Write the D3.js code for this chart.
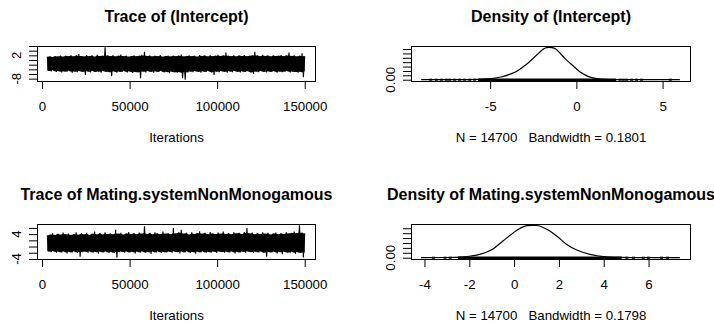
<!DOCTYPE html>
<html>
<head>
<meta charset="utf-8">
<script src="https://cdn.jsdelivr.net/npm/d3@7"></script>
<style>
  body { margin: 0; background: #fff; }
  svg { font-family: "Liberation Sans", Arial, sans-serif; }
  .axis text { font-size: 13.3px; fill: #000; }
  .axis line { stroke: #000; }
  .lab { font-size: 13.3px; fill: #000; white-space: pre; }
  .main { font-size: 16px; font-weight: bold; fill: #000; }
</style>
</head>
<body>
<div id="chart"></div>
<script>
// saved iterations (burnin 3000, thin 10)
const iterStart = 3001,
      iterEnd = 150000,
      sampleSize = 14700;

// trace envelopes, one hi/lo pair every 1500 iterations
const interceptHi = [1.4, 1.6, 1.3, 1.7, 1.5, 1.9, 1.4, 1.8, 1.6, 2.0,
  1.5, 1.9, 2.6, 1.7, 1.5, 2.1, 1.6, 1.9, 1.4, 2.2,
  1.7, 1.8, 5.45, 1.9, 1.6, 2.0, 1.5, 1.8, 2.3, 1.6,
  1.9, 1.4, 1.7, 2.0, 1.6, 1.8, 2.2, 3.5, 1.7, 1.9,
  1.5, 1.8, 1.6, 2.1, 1.4, 1.7, 1.9, 1.5, 1.8, 1.6,
  1.9, 2.3, 1.5, 1.7, 2.0, 1.6, 1.8, 1.4, 2.1, 1.7,
  1.9, 1.5, 2.0, 1.6, 1.8, 2.2, 1.7, 1.9, 3.2, 1.8,
  1.6, 2.0, 1.5, 1.9, 1.7, 2.1, 1.6, 1.8, 2.0, 3.5,
  1.9, 1.6, 2.2, 1.7, 1.9, 1.5, 2.0, 1.7, 1.8, 2.1,
  1.6, 1.9, 3.2, 1.7, 2.0, 1.5, 1.8, 2.9, 1.6];
const interceptLo = [-4.6, -4.9, -4.4, -5.1, -4.7, -5.3, -4.8, -5.0, -4.5, -5.4,
  -4.9, -5.2, -4.7, -5.0, -6.4, -4.8, -5.3, -4.6, -5.1, -4.9,
  -5.5, -4.7, -5.0, -5.2, -6.9, -4.8, -5.4, -4.9, -5.1, -4.6,
  -5.3, -4.8, -5.6, -5.0, -5.2, -7.8, -4.9, -5.3, -4.7, -5.0,
  -5.4, -4.8, -5.1, -4.6, -5.3, -5.0, -5.7, -4.9, -5.2, -5.5,
  -5.1, -7.8, -8.45, -5.3, -4.9, -5.2, -4.7, -5.0, -5.4, -4.8,
  -5.1, -4.6, -5.3, -6.4, -4.9, -5.2, -4.7, -5.0, -5.5, -4.8,
  -5.2, -4.6, -5.0, -5.3, -4.8, -5.1, -4.7, -5.4, -6.0, -4.9,
  -5.2, -4.6, -5.0, -5.3, -4.8, -5.1, -4.7, -5.4, -4.9, -5.2,
  -5.0, -4.7, -5.3, -4.9, -5.1, -5.5, -5.0, -7.4, -4.8];

const matingHi = [3.6, 3.9, 4.3, 3.7, 4.1, 3.8, 4.5, 3.9, 4.2, 3.7,
  4.0, 4.6, 3.8, 4.2, 3.9, 4.4, 3.7, 4.1, 4.8, 3.9,
  4.3, 3.8, 4.6, 4.0, 4.2, 3.9, 5.4, 4.1, 4.4, 3.8,
  4.2, 4.7, 4.0, 4.3, 3.9, 4.5, 4.1, 6.5, 4.0, 4.4,
  3.9, 4.6, 4.2, 4.0, 4.8, 4.1, 4.3, 3.9, 6.0, 4.2,
  4.5, 5.4, 4.1, 4.4, 3.8, 4.6, 4.0, 4.3, 4.9, 4.1,
  4.4, 3.9, 4.7, 4.2, 4.0, 4.5, 4.1, 4.8, 4.0, 4.3,
  3.9, 4.6, 4.2, 4.4, 4.0, 4.7, 6.0, 4.2, 4.5, 3.9,
  4.3, 4.0, 4.6, 4.1, 4.4, 3.8, 4.2, 4.5, 3.9, 4.3,
  4.0, 4.6, 4.2, 4.4, 4.8, 4.3, 6.85, 4.5, 4.2];
const matingLo = [-1.5, -1.8, -1.4, -2.0, -1.6, -1.9, -1.5, -2.2, -1.7, -1.9,
  -1.5, -2.1, -3.3, -1.8, -1.6, -2.0, -1.5, -1.9, -1.7, -2.3,
  -1.6, -1.9, -1.5, -2.1, -1.7, -2.0, -3.6, -1.8, -1.6, -2.0,
  -1.5, -1.9, -1.7, -2.2, -1.6, -1.9, -1.5, -2.0, -1.7, -2.4,
  -1.6, -1.9, -1.5, -2.1, -1.7, -1.9, -1.6, -2.0, -1.5, -1.8,
  -2.2, -1.6, -1.9, -1.5, -2.0, -1.7, -2.3, -1.6, -1.9, -1.5,
  -2.0, -1.7, -1.9, -1.6, -2.1, -1.5, -1.8, -2.0, -1.6, -1.9,
  -1.5, -2.2, -1.7, -1.9, -1.6, -2.0, -1.5, -1.8, -2.1, -1.6,
  -1.9, -1.5, -2.0, -3.3, -1.7, -1.9, -1.6, -2.2, -1.7, -2.5,
  -1.6, -1.9, -2.0, -1.7, -2.3, -1.8, -2.0, -3.5, -1.9];

// kernel density curves
const interceptDensX = [-9.0, -7.0, -5.7, -5.2, -4.8, -4.3, -3.8, -3.4, -3.06, -2.75,
  -2.5, -2.2, -2.0, -1.8, -1.6, -1.4, -1.2, -0.95, -0.7, -0.36,
  0.0, 0.2, 0.5, 0.8, 1.2, 1.6, 2.2, 3.5, 6.0];
const interceptDensY = [0, 0.001, 0.004, 0.009, 0.016, 0.034, 0.066, 0.103, 0.150, 0.200,
  0.245, 0.300, 0.337, 0.362, 0.370, 0.366, 0.350, 0.305, 0.250, 0.188,
  0.125, 0.090, 0.055, 0.030, 0.013, 0.005, 0.002, 0.0005, 0];
const matingDensX = [-4.15, -3.0, -2.4, -2.0, -1.67, -1.3, -0.92, -0.5, -0.03, 0.27,
  0.57, 0.8, 1.01, 1.46, 1.9, 2.35, 2.8, 3.39, 3.99, 4.7, 5.5, 7.4];
const matingDensY = [0, 0.002, 0.006, 0.015, 0.027, 0.050, 0.092, 0.170, 0.255, 0.300,
  0.327, 0.330, 0.328, 0.289, 0.221, 0.135, 0.078, 0.034, 0.011, 0.003, 0.001, 0];

// observations along the bottom: lone tail values + the solid stretch
const interceptRug = [-8.45, -8.12, -7.83, -7.54, -7.35, -7.06, -6.77, -6.48, -6.19, -5.9,
  2.53, 2.72, 2.91, 3.2, 3.49, 3.78, 5.45];
const interceptRugSolid = [-5.7, 2.3];
const matingRug = [-3.6, -3.08, -2.85, 5.03, 5.33, 5.77, 6.0, 6.58, 6.85];
const matingRugSolid = [-2.5, 4.8];

const paramNames = ['(Intercept)', 'Mating.systemNonMonogamous'];
const bandwidths = ['0.1801', '0.1798'];

// layout of the 2x2 grid (plot boxes)
const cols = [{x0: 37, x1: 315}, {x0: 411, x1: 690}],
      rows = [{y0: 46, y1: 81}, {y0: 224, y1: 259}];

const svg = d3.select('#chart').append('svg')
    .attr('width', 714)
    .attr('height', 327);

svg.append('rect').attr('width', 714).attr('height', 327).attr('fill', '#fff');

// R style 4% extension
function ext4(lo, hi) {
    const d = (hi - lo) * 0.04;
    return [lo - d, hi + d];
}

// plain numbers with a hyphen minus, like R
const fmtPlain = d => String(d);

function mWidth() {
    const t = svg.append('text').attr('class', 'lab').text('m');
    const w = t.node().getComputedTextLength();
    t.remove();
    return w;
}
const gap = mWidth();

function drawBox(g, c, r) {
    g.append('rect')
        .attr('x', c.x0 + 0.5).attr('y', r.y0 + 0.5)
        .attr('width', c.x1 - c.x0).attr('height', r.y1 - r.y0)
        .attr('fill', 'none').attr('stroke', '#000').attr('stroke-width', 1);
}

function xAxis(g, x, r) {
    const ax = g.append('g')
        .attr('class', 'axis')
        .attr('transform', `translate(0,${r.y1})`)
        .call(d3.axisBottom(x).tickValues(x.ticks(5)).tickFormat(fmtPlain)
            .tickSize(8).tickSizeOuter(0).tickPadding(13));
    ax.select('.domain').remove();
}

// R prints all ticks of an axis with the same number of decimals
function formatR(t, ticks) {
    const step = Math.abs(ticks[1] - ticks[0]);
    const dec = Math.max(0, -Math.floor(Math.log10(step) + 1e-9));
    return t.toFixed(dec);
}

// ticks on the left; labels rotated and dropped when they'd overlap (like R)
function yAxis(g, y, c) {
    const ticks = y.ticks(7);
    const ax = g.append('g')
        .attr('class', 'axis')
        .attr('transform', `translate(${c.x0},0)`)
        .call(d3.axisLeft(y).tickValues(ticks).tickSize(8).tickSizeOuter(0).tickFormat(''));
    ax.select('.domain').remove();

    let last = null;
    ticks.forEach(t => {
        const yy = y(t);
        const txt = g.append('text')
            .attr('class', 'lab')
            .attr('text-anchor', 'middle')
            .attr('transform', `translate(${c.x0 - 16},${yy}) rotate(-90)`)
            .text(formatR(t, ticks));
        const w = txt.node().getComputedTextLength();
        if (last && Math.abs(last.y - yy) < last.w / 2 + w / 2 + gap) txt.remove();
        else last = {y: yy, w: w};
    });
}

function title(g, c, r, txt) {
    g.append('text')
        .attr('class', 'main')
        .attr('x', (c.x0 + c.x1) / 2 + 0.5)
        .attr('y', r.y0 - 24.5)
        .attr('text-anchor', 'middle')
        .text(txt);
}

function xLabel(g, c, r, txt) {
    g.append('text')
        .attr('class', 'lab')
        .attr('x', (c.x0 + c.x1) / 2 + 0.5)
        .attr('y', r.y1 + 60.5)
        .attr('text-anchor', 'middle')
        .text(txt);
}

function tracePanel(c, r, name, hi, lo) {
    const g = svg.append('g');
    const step = (iterEnd - iterStart) / (hi.length - 1);

    const x = d3.scaleLinear(ext4(iterStart, iterEnd), [c.x0, c.x1]);
    const y = d3.scaleLinear(ext4(d3.min(lo), d3.max(hi)), [r.y1, r.y0]);

    // the chain swings between the high and low values of each block
    const pts = [];
    hi.forEach((h, i) => {
        const it = iterStart + i * step;
        pts.push([it, h]);
        if (i < hi.length - 1) pts.push([it + step / 2, lo[i]]);
    });

    const core = d3.area()
        .x((d, i) => x(iterStart + i * step))
        .y0((d, i) => y(Math.max(lo[i], d3.median(lo.slice(Math.max(0, i - 2), i + 3)))))
        .y1((d, i) => y(Math.min(d, d3.median(hi.slice(Math.max(0, i - 2), i + 3)))));

    g.append('path')
        .datum(hi)
        .attr('d', core)
        .attr('fill', '#000');

    g.append('path')
        .datum(pts)
        .attr('d', d3.line().x(d => x(d[0])).y(d => y(d[1])))
        .attr('fill', 'none')
        .attr('stroke', '#000')
        .attr('stroke-width', 1.1);

    drawBox(g, c, r);
    xAxis(g, x, r);
    yAxis(g, y, c);
    title(g, c, r, 'Trace of ' + name);
    xLabel(g, c, r, 'Iterations');
}

function densityPanel(c, r, name, dx, dy, rug, solid, bw) {
    const g = svg.append('g');
    const lo = d3.min(rug) - 3 * (+bw),
          hi = d3.max(rug) + 3 * (+bw);

    const x = d3.scaleLinear(ext4(lo, hi), [c.x0, c.x1]);
    const y = d3.scaleLinear(ext4(0, d3.max(dy)), [r.y1, r.y0]);

    const line = d3.line()
        .x(d => x(d))
        .y((d, i) => y(dy[i]))
        .curve(d3.curveMonotoneX);

    g.append('path')
        .datum(dx)
        .attr('d', line)
        .attr('fill', 'none')
        .attr('stroke', '#000')
        .attr('stroke-width', 1.2);

    // observations
    g.append('line')
        .attr('x1', x(solid[0])).attr('x2', x(solid[1]))
        .attr('y1', y(0)).attr('y2', y(0))
        .attr('stroke', '#000').attr('stroke-width', 2.5);
    g.selectAll('.obs')
        .data(rug)
        .enter()
        .append('line')
        .attr('class', 'obs')
        .attr('x1', d => x(d) - 1.5).attr('x2', d => x(d) + 1.5)
        .attr('y1', y(0)).attr('y2', y(0))
        .attr('stroke', '#000').attr('stroke-width', 2);

    drawBox(g, c, r);
    xAxis(g, x, r);
    yAxis(g, y, c);
    title(g, c, r, 'Density of ' + name);
    xLabel(g, c, r, `N = ${sampleSize}   Bandwidth = ${bw}`);
}

tracePanel(cols[0], rows[0], paramNames[0], interceptHi, interceptLo);
densityPanel(cols[1], rows[0], paramNames[0], interceptDensX, interceptDensY, interceptRug, interceptRugSolid, bandwidths[0]);
tracePanel(cols[0], rows[1], paramNames[1], matingHi, matingLo);
densityPanel(cols[1], rows[1], paramNames[1], matingDensX, matingDensY, matingRug, matingRugSolid, bandwidths[1]);
</script>
</body>
</html>
